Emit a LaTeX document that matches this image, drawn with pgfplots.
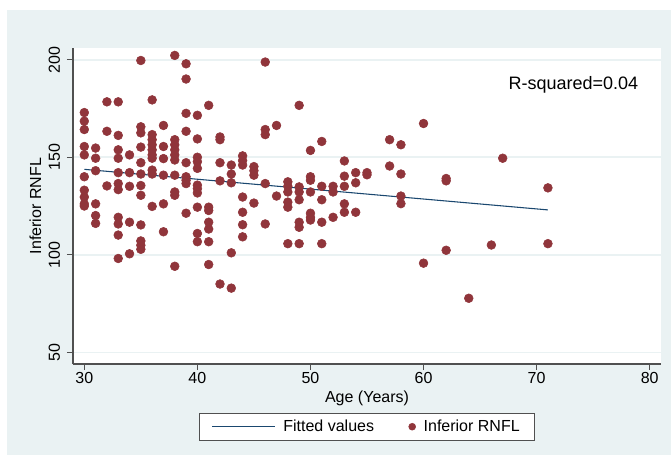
\documentclass[border=0pt]{standalone}
\usepackage{pgfplots}
\pgfplotsset{compat=1.18}
\usepackage{pgfplotstable}
\usepackage{fontspec}
\setmainfont{Liberation Sans}

\definecolor{bgblue}{RGB}{234,242,243}
\definecolor{dotred}{RGB}{144,53,59}
\definecolor{linenavy}{RGB}{26,71,111}
\definecolor{axisgray}{RGB}{80,80,80}

% legend pictures for the two series
\pgfplotsset{
    fitlegend/.style={legend image code/.code={\draw[##1] (0pt,0pt) -- (47pt,0pt);}},
    dotlegend/.style={legend image code/.code={\draw[##1, mark size=2.6pt] plot coordinates {(0pt,0pt)};}},
}

% age (years) vs inferior RNFL
\pgfplotstableread{
age rnfl
30 172.9
30 168.5
30 164.2
30 155.5
30 151.2
30 140.0
30 133.1
30 129.6
30 126.1
30 125.0
31 154.7
31 149.5
31 143.1
31 126.1
31 120.1
31 116.1
32 178.4
32 163.3
32 135.3
33 178.4
33 161.2
33 153.8
33 149.5
33 142.1
33 136.5
33 133.4
33 119.2
33 115.8
33 110.1
33 98.1
34 151.2
34 142.1
34 135.1
34 116.7
34 100.5
35 199.6
35 165.6
35 162.5
35 155.2
35 147.2
35 141.4
35 135.5
35 130.5
35 115.3
35 107.1
35 104.9
35 102.8
36 179.4
36 161.6
36 159.0
36 156.4
36 153.8
36 151.2
36 149.5
36 143.4
36 141.4
36 124.8
37 166.3
37 155.5
37 149.3
37 140.8
37 126.1
37 111.8
38 202.2
38 159.0
38 156.4
38 153.8
38 151.2
38 148.6
38 140.8
38 132.2
38 130.5
38 94.1
39 197.9
39 190.1
39 172.5
39 163.3
39 147.2
39 140.0
39 138.2
39 136.5
39 121.3
40 171.5
40 159.4
40 150.0
40 147.7
40 144.3
40 135.7
40 133.9
40 131.7
40 124.4
40 110.9
40 106.7
41 176.6
41 124.4
41 122.7
41 116.7
41 113.2
41 106.7
41 95.0
42 160.4
42 159.0
42 147.2
42 137.9
42 85.0
43 146.0
43 141.4
43 136.9
43 101.0
43 82.9
44 150.7
44 148.3
44 146.0
44 129.6
44 121.8
44 115.4
44 109.2
45 145.2
45 143.1
45 140.8
45 126.5
46 198.8
46 164.2
46 161.6
46 136.5
46 115.8
47 166.3
47 130.1
48 137.4
48 135.1
48 132.2
48 127.0
48 124.4
48 105.7
49 176.6
49 134.8
49 132.2
49 128.2
49 116.7
49 114.1
49 105.7
50 153.5
50 140.0
50 138.2
50 132.2
50 121.3
50 119.2
50 117.8
51 158.1
51 135.1
51 128.2
51 116.7
51 105.7
52 135.1
52 132.2
52 119.2
53 148.1
53 140.3
53 135.1
53 126.1
53 121.8
54 142.1
54 136.9
54 121.8
55 142.1
55 141.0
57 159.0
57 145.5
58 156.4
58 141.4
58 130.1
58 126.2
60 167.3
60 95.7
62 139.1
62 137.9
62 102.3
64 77.7
66 105.0
67 149.5
71 134.3
71 105.7
}\rnfldata

\begin{document}
\begin{tikzpicture}
\fill[white] (-54.75pt,-68.25pt) rectangle (448.5pt,273pt);
\fill[bgblue] (-49.5pt,-68.25pt) rectangle (448.5pt,265.5pt);
\begin{axis}[
    at={(0,0)}, anchor=south west,
    scale only axis,
    width=441pt, height=237pt,
    xmin=29, xmax=81,
    ymin=44, ymax=206,
    xtick={30,40,50,60,70,80},
    ytick={50,100,150,200},
    axis lines*=left,
    axis line style={axisgray, line width=0.8pt},
    tick style={axisgray, line width=0.8pt},
    tick align=outside,
    major tick length=4.5pt,
    ymajorgrids,
    grid style={bgblue, line width=1.2pt},
    axis background/.style={fill=white},
    /pgf/number format/assume math mode=true,
    tick label style={font=\fontsize{12}{14}\selectfont, inner sep=1.5pt},
    yticklabel style={rotate=90, anchor=south, inner sep=5pt},
    xlabel={Age (Years)},
    ylabel={Inferior RNFL},
    label style={font=\fontsize{12}{14}\selectfont},
    xlabel style={at={(axis description cs:0.5,0)}, anchor=center, yshift=-25.5pt},
    ylabel style={at={(axis description cs:-0.064,0.5)}, anchor=center},
    legend style={at={(0.5,-0.155)}, anchor=north, legend columns=2,
        draw=axisgray, fill=white, font=\fontsize{12}{14}\selectfont,
        inner xsep=9pt, inner ysep=3pt,
        /tikz/every odd column/.append style={column sep=4pt},
        /tikz/every even column/.append style={column sep=24pt}},
]
\addplot[linenavy, line width=0.8pt, fitlegend]
    coordinates {(30,143.8) (71,123.0)};
\addlegendentry{Fitted values}

\addplot[only marks, mark=*, mark size=3.3pt, color=dotred,
    mark options={draw=dotred, fill=dotred}, dotlegend]
    table[x=age, y=rnfl] {\rnfldata};
\addlegendentry{Inferior RNFL}

\node[anchor=east, font=\fontsize{13.5}{16}\selectfont] at (axis cs:79.4,187) {R-squared=0.04};
\end{axis}
\end{tikzpicture}
\end{document}
